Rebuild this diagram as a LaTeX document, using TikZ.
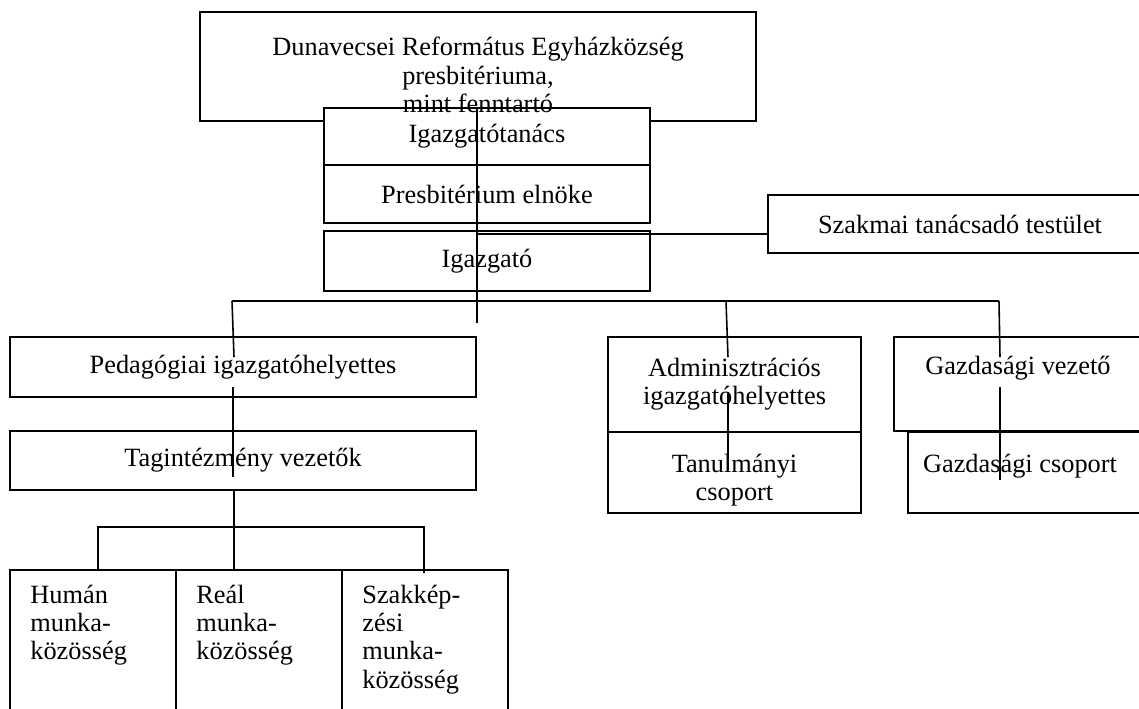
\documentclass[tikz,border=0pt]{standalone}
\usepackage{fontspec}
\setmainfont{Liberation Serif}

\begin{document}
\begin{tikzpicture}[x=0.02cm,y=-0.02cm,
        doboz/.style={draw,fill=white,line width=0.9pt,inner sep=0pt,align=center,font=\fontsize{15}{16}\selectfont},
        felirat/.style={inner sep=0pt,font=\fontsize{15}{16}\selectfont},
        vonal/.style={line width=0.9pt}]
            \useasboundingbox (0,0) rectangle (1139,708);
            % felso dobozok
            \node[doboz,minimum width=11.12cm,minimum height=2.18cm] (fenntarto) at (478,66.5) {};
            \node[doboz,minimum width=6.52cm,minimum height=1.14cm] (igtanacs) at (487,136.5) {Igazgatótanács};
            \node[felirat,align=center,anchor=north] (fenntartoszoveg) at (478,37) {Dunavecsei Református Egyházközség\\presbitériuma,\\mint fenntartó};
            \node[doboz,minimum width=6.52cm,minimum height=1.16cm] (elnok) at (487,194) {Presbitérium elnöke};
            \node[doboz,minimum width=6.52cm,minimum height=1.2cm] (igazgato) at (487,261) {Igazgató};
            \node[doboz,minimum width=7.68cm,minimum height=1.16cm] (szakmai) at (960,224) {Szakmai tanácsadó testület};
            % bal oldal
            \node[doboz,minimum width=9.32cm,minimum height=1.2cm] (pedig) at (243,367) {Pedagógiai igazgatóhelyettes};
            \node[doboz,minimum width=9.32cm,minimum height=1.18cm] (tagint) at (243,460.5) {Tagintézmény vezetők};
            \node[doboz,minimum width=3.32cm,minimum height=3cm] (human) at (93,645) {};
            \node[doboz,minimum width=3.32cm,minimum height=3cm] (real) at (259,645) {};
            \node[doboz,minimum width=3.32cm,minimum height=3cm] (szakk) at (425,645) {};
            \node[felirat,align=left,anchor=north west] (humanszoveg) at (30,585) {Humán\\munka-\\közösség};
            \node[felirat,align=left,anchor=north west] (realszoveg) at (196,585) {Reál\\munka-\\közösség};
            \node[felirat,align=left,anchor=north west] (szakkszoveg) at (362,585) {Szakkép-\\zési\\munka-\\közösség};
            % jobb oldal
            \node[doboz,minimum width=5.06cm,minimum height=1.9cm] (admin) at (734.5,384.5) {Adminisztrációs\\igazgatóhelyettes};
            \node[doboz,minimum width=5.06cm,minimum height=1.62cm] (tanulm) at (734.5,472.5) {};
            \node[felirat,align=center,anchor=north] (tanulmszoveg) at (734.5,454) {Tanulmányi\\csoport};
            \node[doboz,minimum width=4.96cm,minimum height=1.88cm] (gvezeto) at (1018,384) {};
            \node[felirat,anchor=north] (gvezetoszoveg) at (1018,356) {Gazdasági vezető};
            \node[doboz,minimum width=4.74cm,minimum height=1.62cm] (gcsoport) at (1026.5,472.5) {};
            \node[felirat,anchor=north] (gcsoportszoveg) at (1020,454) {Gazdasági csoport};
            % vonalak
            \coordinate (fo1) at (477,108);
            \coordinate (fo2) at (477,323);
            \coordinate (tanacsag) at (477,234);
            \coordinate (sinbal) at (232,301);
            \coordinate (sinjobb) at (999,301);
            \coordinate (ped1) at (234,357);
            \coordinate (ped2) at (233,387);
            \coordinate (ped3) at (233,477);
            \coordinate (tag1) at (234,490);
            \coordinate (tag2) at (234,570);
            \coordinate (mk1) at (98,527);
            \coordinate (mk2) at (424,527);
            \coordinate (mk1b) at (98,570);
            \coordinate (mk2b) at (424,573);
            \coordinate (adm0) at (726,301);
            \coordinate (adm1) at (728,357);
            \coordinate (adm2) at (728,392);
            \coordinate (adm3) at (728,470);
            \coordinate (gaz1) at (1000,357);
            \coordinate (gaz2) at (1000,387);
            \coordinate (gaz3) at (1000,480);
            \draw[vonal] (fo1) -- (fo2);
            \draw[vonal] (tanacsag) -- (tanacsag -| szakmai.west);
            \draw[vonal] (sinbal) -- (sinjobb);
            \draw[vonal] (sinbal) -- (ped1);
            \draw[vonal] (ped2) -- (ped3);
            \draw[vonal] (tag1) -- (tag2);
            \draw[vonal] (mk1b) -- (mk1) -- (mk2) -- (mk2b);
            \draw[vonal] (adm0) -- (adm1);
            \draw[vonal] (adm2) -- (adm3);
            \draw[vonal] (sinjobb) -- (gaz1);
            \draw[vonal] (gaz2) -- (gaz3);
        \end{tikzpicture}
\end{document}
